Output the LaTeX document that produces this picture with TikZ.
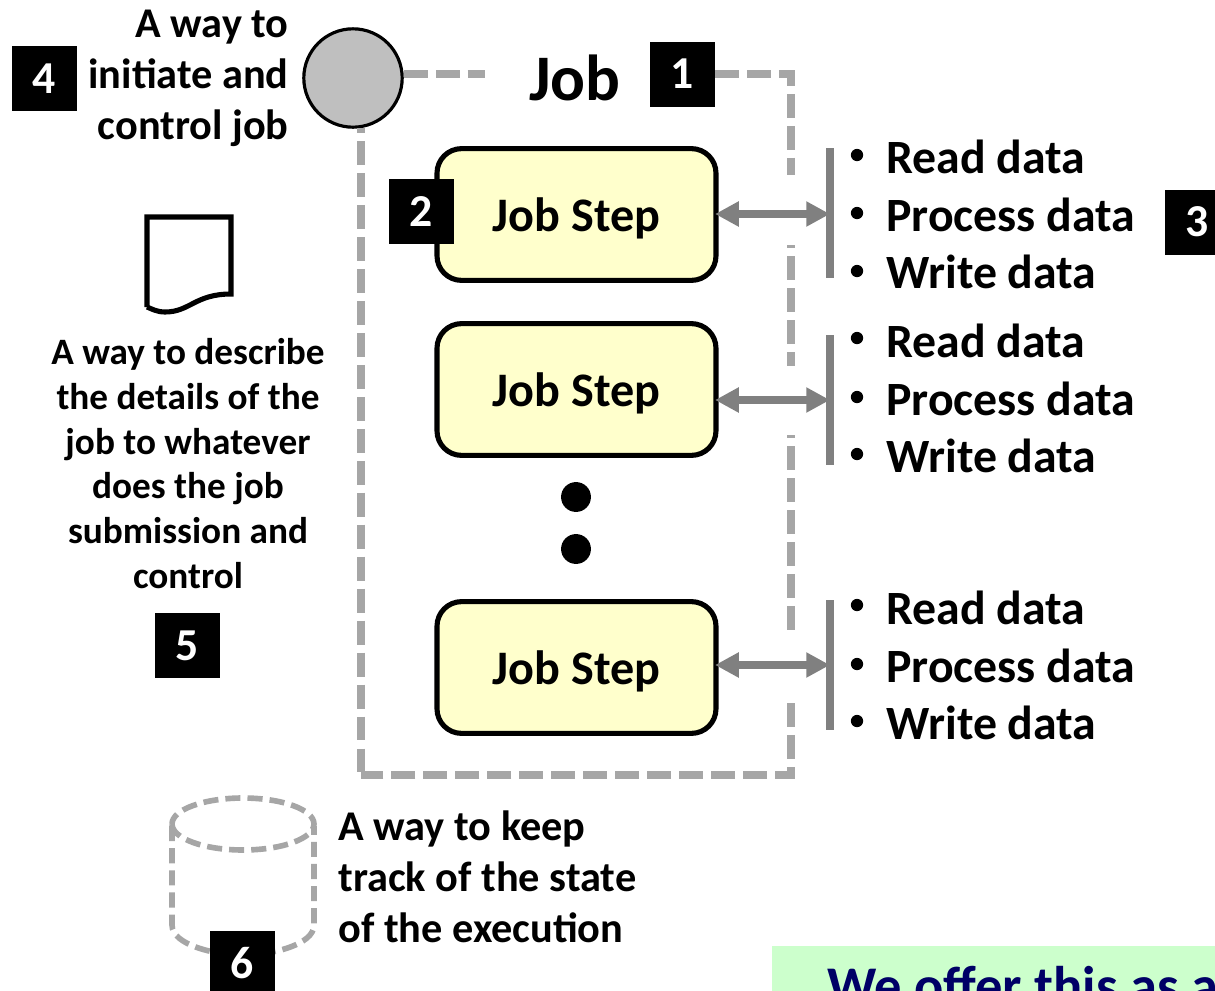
\documentclass[tikz,border=0pt]{standalone}
\usepackage{fontspec}
\setmainfont{Carlito}
\usetikzlibrary{arrows.meta}

\definecolor{framegray}{HTML}{A6A6A6}
\definecolor{linkgray}{HTML}{808080}
\definecolor{stepfill}{HTML}{FFFFCC}
\definecolor{notefill}{HTML}{CCFFCC}
\definecolor{notetext}{HTML}{000066}

\tikzset{
  framedash/.style={draw=framegray, line width=4.4pt, dash pattern=on 13.6pt off 4.6pt},
  storedash/.style={draw=framegray, line width=3.2pt, dash pattern=on 8.6pt off 4pt},
  stepbox/.style={draw=black, line width=2.9pt, fill=stepfill, rounded corners=14pt,
    minimum width=158.8pt, minimum height=75pt, inner sep=0pt, text height=27.2pt, text depth=8pt,
    font=\bfseries\fontsize{27.4}{32}\selectfont},
  numbox/.style={fill=black, text=white, minimum size=37pt, inner sep=0pt,
    font=\bfseries\fontsize{26}{30}\selectfont},
  sidetext/.style={inner sep=0pt, font=\bfseries\fontsize{24.1}{29}\selectfont},
  desctext/.style={inner sep=0pt, align=center, font=\bfseries\fontsize{21.2}{25.5}\selectfont},
  listtext/.style={inner sep=0pt, anchor=west, font=\bfseries\fontsize{27.2}{32}\selectfont},
  listdot/.style={circle, fill=black, minimum size=7pt, inner sep=0pt},
  linkbar/.style={draw=linkgray, line width=4.5pt},
  linkarrow/.style={draw=linkgray, line width=4.2pt, shorten <=-2pt, {Triangle[length=13.5pt,width=13.5pt]}-{Triangle[length=13.5pt,width=13.5pt]}},
}

\begin{document}
\begin{tikzpicture}[x=0.02cm, y=-0.02cm]
  \useasboundingbox (0, 0) rectangle (1215, 991);

  % Initiator and job frame
  \node[circle, draw=black, line width=1.8pt, fill=black!25, minimum size=56pt, inner sep=0pt] (initiator) at (353, 78) {};
  \node[font=\bfseries\fontsize{37}{44}\selectfont, inner sep=0pt] (jobtitle) at (575, 78) {Job};
  \node[numbox] (num1) at (682, 74) {1};
  \coordinate (titlegap) at (485, 74);
  \coordinate (frameleft) at (361, 128);
  \coordinate (framecorner) at (361, 775);
  \draw[framedash] (initiator.east |- titlegap) -- (titlegap);
  \draw[framedash] (num1.east) -| (791, 175);
  \draw[framedash, dash phase=11.9pt] (791, 245) -- (791, 366);
  \draw[framedash, dash phase=11.9pt] (791, 435) -- (791, 630);
  \draw[framedash] (791, 703) -- (791, 775) -- (framecorner);
  \draw[framedash, dash phase=10.8pt] (frameleft) -- (framecorner);

  % Job steps
  \node[stepbox] (step1) at (576.5, 214.5) {Job Step};
  \node[stepbox] (step2) at (576.5, 389.5) {Job Step};
  \node[stepbox] (step3) at (576.5, 667.5) {Job Step};
  \node[circle, fill=black, minimum size=17pt, inner sep=0pt] (dot1) at (576, 497) {};
  \node[circle, fill=black, minimum size=17pt, inner sep=0pt] (dot2) at (576, 549) {};
  \node[numbox] (num2) at (421.5, 211.5) {2};

  % Bars and arrows
  \coordinate (bar1top) at (830, 148);
  \coordinate (bar1low) at (830, 278);
  \coordinate (bar2top) at (830, 335);
  \coordinate (bar2low) at (830, 465);
  \coordinate (bar3top) at (830, 600);
  \coordinate (bar3low) at (830, 730);
  \draw[linkbar] (bar1top) -- (bar1low);
  \draw[linkbar] (bar2top) -- (bar2low);
  \draw[linkbar] (bar3top) -- (bar3low);
  \draw[linkarrow] (step1.east |- 0, 214) -- (bar1top |- 0, 214);
  \draw[linkarrow] (step2.east |- 0, 400) -- (bar2top |- 0, 400);
  \draw[linkarrow] (step3.east |- 0, 665) -- (bar3top |- 0, 665);

  % Lists
  \node[listdot] (dot11) at (857, 155) {};
  \node[listdot] (dot12) at (857, 213) {};
  \node[listdot] (dot13) at (857, 271) {};
  \node[listtext] (read1) at (886, 157) {Read data};
  \node[listtext] (proc1) at (886, 215) {Process data};
  \node[listtext] (write1) at (886, 272) {Write data};
  \node[listdot] (dot21) at (857, 338) {};
  \node[listdot] (dot22) at (857, 397) {};
  \node[listdot] (dot23) at (857, 454) {};
  \node[listtext] (read2) at (886, 341) {Read data};
  \node[listtext] (proc2) at (886, 399) {Process data};
  \node[listtext] (write2) at (886, 456) {Write data};
  \node[listdot] (dot31) at (857, 605) {};
  \node[listdot] (dot32) at (857, 664) {};
  \node[listdot] (dot33) at (857, 721) {};
  \node[listtext] (read3) at (886, 608) {Read data};
  \node[listtext] (proc3) at (886, 666) {Process data};
  \node[listtext] (write3) at (886, 723) {Write data};
  \node[numbox] (num3) at (1197, 222) {3};

  % Left side
  \node[sidetext, align=right, anchor=east] (inittext) at (289, 78.5) {A way to\\initiate and\\control job};
  \node[numbox] (num4) at (44.5, 78.5) {4};
  \draw[black, line width=2.9pt, line join=miter] (147, 307) -- (147, 217) -- (231, 217) -- (231, 294)
    .. controls (195, 294) and (190, 312) .. (165, 312) .. controls (157, 312) and (152, 309) .. (147, 307);
  \node[desctext] (desctext) at (188, 463.5) {A way to describe\\the details of the\\job to whatever\\does the job\\submission and\\control};
  \node[numbox] (num5) at (187.5, 645.5) {5};

  % Execution store
  \draw[storedash] (172, 824) arc[start angle=180, end angle=-180, x radius=71, y radius=26];
  \draw[storedash] (172, 826) -- (172, 925) .. controls (172, 945) and (215, 955) .. (243, 955)
    .. controls (271, 955) and (314, 945) .. (314, 925) -- (314, 826);
  \node[numbox] (num6) at (242.5, 963.5) {6};
  \node[sidetext, align=left, anchor=west] (storetext) at (338, 877) {A way to keep\\track of the state\\of the execution};

  % Note cut off by the page
  \node[fill=notefill, anchor=north west, minimum width=252.2pt, minimum height=40pt, inner sep=0pt] (notebox) at (772, 946) {};
  \node[anchor=base west, inner sep=0pt, text=notetext, font=\bfseries\fontsize{31}{37}\selectfont] (notetext) at (827, 1004) {We offer this as a};
\end{tikzpicture}
\end{document}
